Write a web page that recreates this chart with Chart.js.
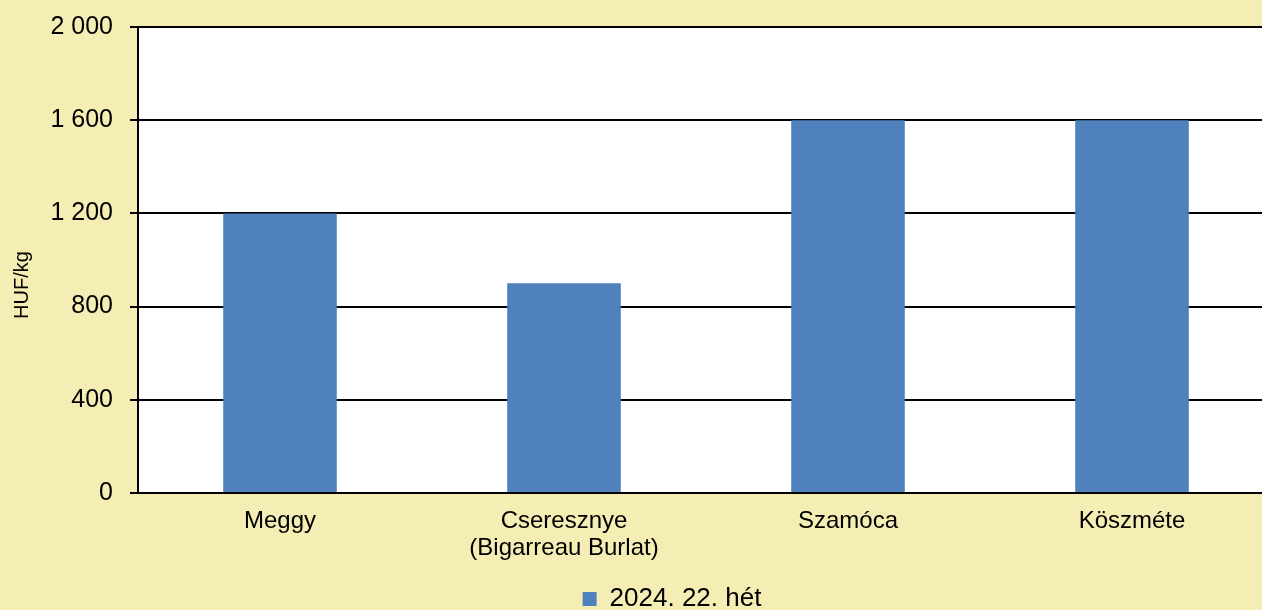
<!DOCTYPE html>
<html>
<head>
<meta charset="utf-8">
<script src="https://cdn.jsdelivr.net/npm/chart.js@4"></script>
<style>
  html, body { margin: 0; padding: 0; background: #f4eeb4; overflow: hidden; }
  #wrap { width: 1274px; height: 610px; position: relative; }
</style>
</head>
<body>
<div id="wrap"><canvas id="priceChart"></canvas></div>
<script>
// Data
const categories = ["Meggy", ["Cseresznye", "(Bigarreau Burlat)"], "Szamóca", "Köszméte"];
const weekLabel = "2024. 22. hét";
const prices = [1200, 900, 1600, 1600];
const yTicks = [0, 400, 800, 1200, 1600, 2000];

const fontFamily = "'Liberation Sans', Arial, sans-serif";

// white plot area
const plotBg = {
  id: "plotBg",
  beforeDraw(chart) {
    const { ctx, chartArea: a } = chart;
    ctx.save();
    ctx.fillStyle = "#ffffff";
    ctx.fillRect(a.left, a.top, a.right - a.left, a.bottom - a.top);
    ctx.restore();
  },
};

// nudge the legend a bit right and down, like in the original
const legendShift = {
  id: "legendShift",
  afterLayout(chart) {
    const l = chart.legend;
    l.left += 35; l.right += 35;
    l.top += 12; l.bottom += 12;
  },
};

const priceCtx = document.getElementById("priceChart").getContext("2d");
const priceChart = new Chart(priceCtx, {
  type: "bar",
  data: {
    labels: categories,
    datasets: [
      {
        label: weekLabel,
        data: prices,
        backgroundColor: "#4f81bd",
        borderWidth: 0,
        barPercentage: 0.4,
        categoryPercentage: 1,
      },
    ],
  },
  options: {
    responsive: true,
    maintainAspectRatio: false,
    animation: false,
    layout: { padding: { top: 0, left: 0, right: 0, bottom: 0 } },
    plugins: {
      tooltip: { enabled: false },
      legend: {
        display: true,
        position: "bottom",
        labels: {
          color: "#000",
          font: { family: fontFamily, size: 26 },
          boxWidth: 14,
          boxHeight: 14,
          padding: 2,
        },
      },
    },
    scales: {
      x: {
        grid: { display: false },
        border: { display: true, color: "#000", width: 2 },
        ticks: {
          color: "#000",
          font: { family: fontFamily, size: 24, lineHeight: 1.12 },
          maxRotation: 0,
          padding: 7,
        },
        afterFit(axis) { axis.height = 79; },
      },
      y: {
        min: 0,
        max: 2000,
        afterBuildTicks(axis) {
          axis.ticks = yTicks.map((v) => ({ value: v }));
        },
        grid: { color: "#000", lineWidth: 2, tickLength: 8 },
        border: { display: true, color: "#000", width: 2 },
        ticks: {
          color: "#000",
          font: { family: fontFamily, size: 25, lineHeight: 0.8 },
          padding: 17,
          callback: (v) => String(v).replace(/\B(?=(\d{3})+(?!\d))/g, " "),
        },
        title: {
          display: true,
          text: "HUF/kg" + "\u00a0".repeat(9),
          color: "#000",
          font: { family: fontFamily, size: 20 },
          padding: { top: 10, bottom: 0 },
        },
        afterFit(axis) { axis.width = 138; },
      },
    },
  },
  plugins: [plotBg, legendShift],
});
</script>
</body>
</html>
